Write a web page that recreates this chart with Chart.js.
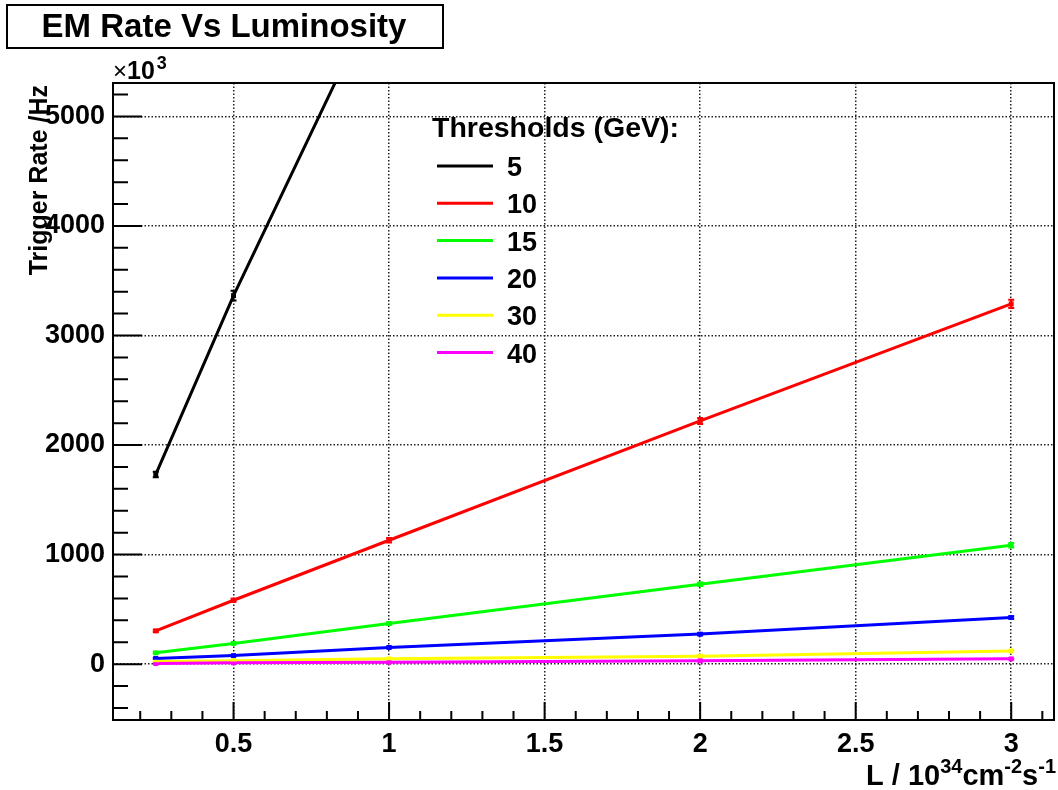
<!DOCTYPE html>
<html>
<head>
<meta charset="utf-8">
<title>EM Rate Vs Luminosity</title>
<script src="https://cdn.jsdelivr.net/npm/chart.js@4/dist/chart.umd.min.js"></script>
<style>
  html, body { margin: 0; padding: 0; background: #fff; }
  canvas { display: block; }
</style>
</head>
<body>
<canvas id="rateChart" width="1058" height="790"></canvas>
<script>
// luminosity points, units of 10^34 cm^-2 s^-1
const lumi = [0.25, 0.5, 1, 2, 3];

// EM trigger rates (x10^3 Hz) for each threshold in GeV
const thresholds = ["5", "10", "15", "20", "30", "40"];
const rate5  = [1732, 3364, 6340, 12700, 19000];
const rate10 = [303, 583, 1131, 2220, 3288];
const rate15 = [103, 189, 371, 730, 1085];
const rate20 = [52, 78, 152, 274, 426];
const rate30 = [25, 32, 48, 73, 121];
const rate40 = [6, 12, 18, 30, 48];

// statistical errors on the rates
const err5  = [25, 45, 60, 90, 110];
const err10 = [10, 14, 20, 28, 38];
const err15 = [6, 8, 12, 16, 20];
const err20 = [4, 6, 8, 10, 12];
const err30 = [3, 3, 4, 5, 6];
const err40 = [1, 2, 2, 3, 4];

const lineColors = ["#000000", "#ff0000", "#00ff00", "#0000ff", "#ffff00", "#ff00ff"];

const xTicks = [0.5, 1, 1.5, 2, 2.5, 3];
const yTicks = [0, 1000, 2000, 3000, 4000, 5000];

const FONT = '"Liberation Sans", Arial, Helvetica, sans-serif';

const rates = [rate5, rate10, rate15, rate20, rate30, rate40];
const errors = [err5, err10, err15, err20, err30, err40];

const datasets = thresholds.map((t, i) => ({
  label: t,
  data: lumi.map((x, j) => ({ x: x, y: rates[i][j] })),
  errors: errors[i],
  borderColor: lineColors[i],
  backgroundColor: lineColors[i],
  borderWidth: 3,
  pointStyle: "rect",
  pointRadius: 3.5,
  pointBorderWidth: 0,
  tension: 0,
  clip: 0,
  order: -i
}));

function drawTextRuns(ctx, runs, xRight, baseline) {
  // runs: [text, isSuperscript]
  const fontFor = sup => sup ? "bold 20px " + FONT : "bold 29px " + FONT;
  let total = 0;
  runs.forEach(r => {
    ctx.font = fontFor(r[1]);
    total += ctx.measureText(r[0]).width;
  });
  let x = xRight - total;
  ctx.textAlign = "left";
  ctx.textBaseline = "alphabetic";
  runs.forEach(r => {
    ctx.font = fontFor(r[1]);
    ctx.fillText(r[0], x, r[1] ? baseline - 12 : baseline);
    x += ctx.measureText(r[0]).width;
  });
}

const rootStyle = {
  id: "rootStyle",
  afterDatasetsDraw(chart) {
    const { ctx, chartArea: a, scales: { x, y } } = chart;
    ctx.save();
    ctx.beginPath();
    ctx.rect(a.left, a.top, a.right - a.left, a.bottom - a.top);
    ctx.clip();
    chart.data.datasets.forEach(ds => {
      ctx.strokeStyle = ds.borderColor;
      ctx.lineWidth = 2;
      ds.data.forEach((p, j) => {
        const px = x.getPixelForValue(p.x);
        const lo = y.getPixelForValue(p.y - ds.errors[j]);
        const hi = y.getPixelForValue(p.y + ds.errors[j]);
        ctx.beginPath();
        ctx.moveTo(px, lo); ctx.lineTo(px, hi);
        ctx.moveTo(px - 3, lo); ctx.lineTo(px + 3, lo);
        ctx.moveTo(px - 3, hi); ctx.lineTo(px + 3, hi);
        ctx.stroke();
      });
    });
    ctx.restore();
  },
  afterDraw(chart) {
    const { ctx, chartArea: a, scales: { x, y } } = chart;
    ctx.save();

    // axis frame
    ctx.strokeStyle = "#000";
    ctx.lineWidth = 2;
    ctx.strokeRect(a.left, a.top, a.right - a.left, a.bottom - a.top);

    // inward ticks on the bottom and left axes
    ctx.lineWidth = 2;
    ctx.beginPath();
    for (let k = 2; k <= 31; k++) {
      const v = k / 10;
      if (v < x.min || v > x.max) continue;
      const px = x.getPixelForValue(v);
      const len = k % 5 === 0 ? 18 : 9;
      ctx.moveTo(px, a.bottom);
      ctx.lineTo(px, a.bottom - len);
    }
    for (let v = -400; v <= 5200; v += 200) {
      const py = y.getPixelForValue(v);
      const len = v % 1000 === 0 ? 29 : 15;
      ctx.moveTo(a.left, py);
      ctx.lineTo(a.left + len, py);
    }
    ctx.stroke();

    // title box
    ctx.fillStyle = "#fff";
    ctx.fillRect(7, 5, 436, 43);
    ctx.lineWidth = 2;
    ctx.strokeRect(7, 5, 436, 43);
    ctx.fillStyle = "#000";
    ctx.font = "bold 33px " + FONT;
    ctx.textAlign = "center";
    ctx.textBaseline = "alphabetic";
    ctx.fillText("EM Rate Vs Luminosity", 224, 37);

    // exponent of the y axis
    ctx.textAlign = "left";
    ctx.font = "24px " + FONT;
    ctx.fillText("\u00d7", a.left, 79);
    let ex = a.left + ctx.measureText("\u00d7").width;
    ctx.font = "bold 25px " + FONT;
    ctx.fillText("10", ex, 79);
    ex += ctx.measureText("10").width;
    ctx.font = "bold 18px " + FONT;
    ctx.fillText("3", ex + 2, 69);

    // y axis title
    ctx.save();
    ctx.translate(47, a.top + 2);
    ctx.rotate(-Math.PI / 2);
    ctx.font = "bold 25px " + FONT;
    ctx.textAlign = "right";
    ctx.fillText("Trigger Rate /Hz", 0, 0);
    ctx.restore();

    // x axis title
    drawTextRuns(ctx, [["L / 10", false], ["34", true], ["cm", false], ["-2", true], ["s", false], ["-1", true]], 1056, 785);

    // legend
    ctx.textAlign = "left";
    ctx.textBaseline = "alphabetic";
    ctx.fillStyle = "#000";
    ctx.font = "bold 28.5px " + FONT;
    ctx.fillText("Thresholds (GeV):", 432, 137);
    ctx.font = "bold 27px " + FONT;
    chart.data.datasets.forEach((ds, i) => {
      const ly = 166 + i * 37.3;
      ctx.strokeStyle = ds.borderColor;
      ctx.lineWidth = 3;
      ctx.beginPath();
      ctx.moveTo(437, ly);
      ctx.lineTo(493, ly);
      ctx.stroke();
      ctx.fillText(ds.label, 507, ly + 10);
    });

    ctx.restore();
  }
};

const gridStyle = { color: "#222", lineWidth: 1.5, drawTicks: false };
const dotted = { display: false, dash: [1.5, 2] };

new Chart(document.getElementById("rateChart"), {
  type: "line",
  data: { datasets: datasets },
  options: {
    responsive: false,
    animation: false,
    layout: { padding: { top: 83, right: 2, left: 0, bottom: 0 } },
    plugins: {
      legend: { display: false },
      title: { display: false },
      tooltip: { enabled: false }
    },
    scales: {
      x: {
        type: "linear",
        min: 0.1125,
        max: 3.1375,
        afterBuildTicks: s => { s.ticks = xTicks.map(v => ({ value: v })); },
        afterFit: s => { s.height = 70; },
        ticks: {
          color: "#000",
          font: { family: FONT, size: 27, weight: "bold" },
          padding: 8,
          maxRotation: 0,
          callback: v => String(v)
        },
        grid: gridStyle,
        border: dotted
      },
      y: {
        type: "linear",
        min: -510,
        max: 5305,
        afterBuildTicks: s => { s.ticks = yTicks.map(v => ({ value: v })); },
        afterFit: s => { s.width = 113; },
        ticks: {
          color: "#000",
          font: { family: FONT, size: 27, weight: "bold" },
          padding: 8,
          callback: v => String(v)
        },
        grid: gridStyle,
        border: dotted
      }
    }
  },
  plugins: [rootStyle]
});
</script>
</body>
</html>
